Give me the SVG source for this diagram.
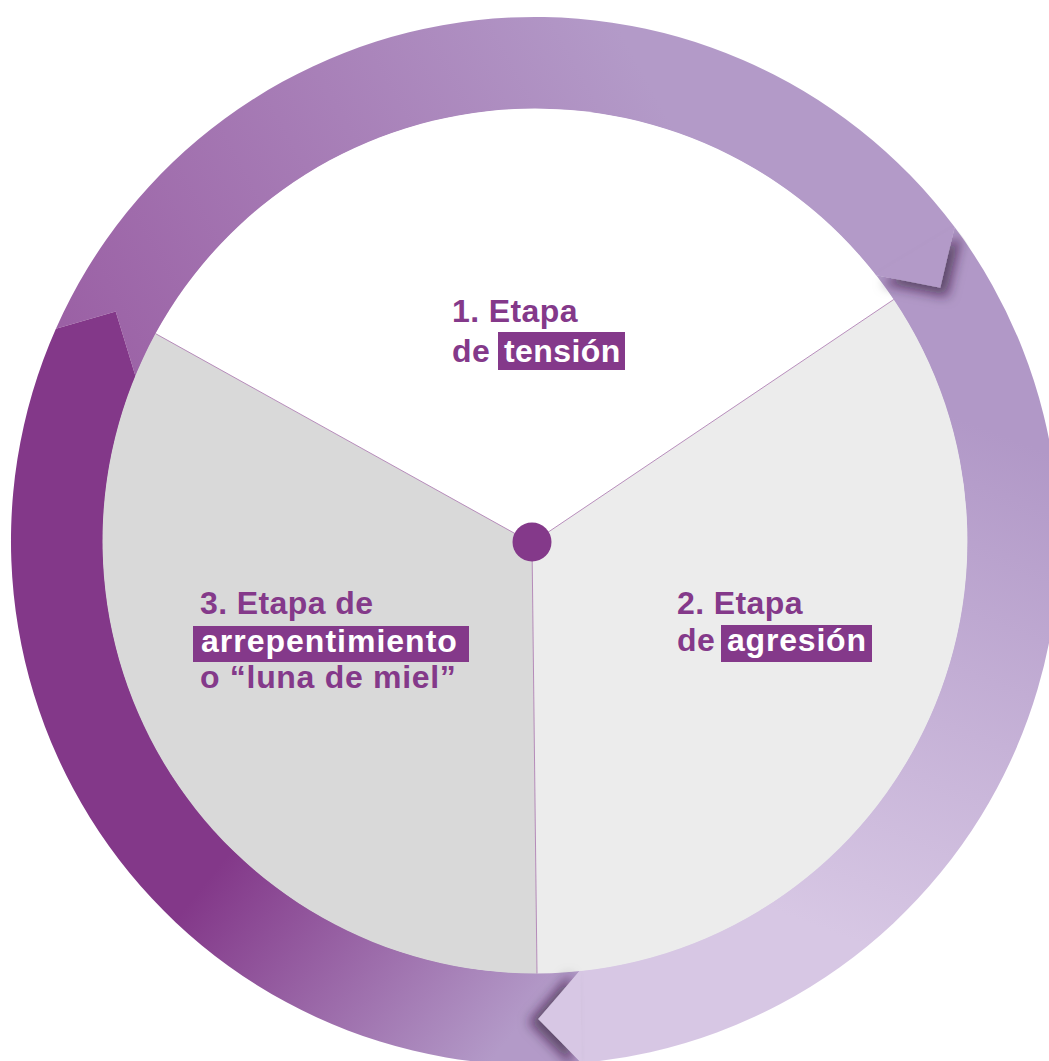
<svg xmlns="http://www.w3.org/2000/svg" width="1049" height="1061" viewBox="0 0 1049 1061">
<style>
.lbl{font-family:"Liberation Sans",Arial,sans-serif;font-weight:700;font-size:32px;letter-spacing:0.4px;fill:#84398a}
.hl{font-family:"Liberation Sans",Arial,sans-serif;font-weight:700;font-size:32px;letter-spacing:0.4px;fill:#ffffff}
.hlbox{fill:#84398a}
.div{stroke:#a873ad;stroke-width:0.8;fill:none}
</style>
<defs>
<linearGradient id="gTop" gradientUnits="userSpaceOnUse" x1="70" y1="330" x2="620" y2="30">
<stop offset="0" stop-color="#9b61a5"/>
<stop offset="1" stop-color="#b39ac8"/>
</linearGradient>
<linearGradient id="gRight" gradientUnits="userSpaceOnUse" x1="990" y1="430" x2="800" y2="920">
<stop offset="0" stop-color="#b198c7"/>
<stop offset="1" stop-color="#d7c7e4"/>
</linearGradient>
<linearGradient id="gLeft" gradientUnits="userSpaceOnUse" x1="240" y1="840" x2="500" y2="1050">
<stop offset="0" stop-color="#833889"/>
<stop offset="1" stop-color="#b39ac8"/>
</linearGradient>
<filter id="shTop" x="-50%" y="-50%" width="200%" height="200%">
<feGaussianBlur in="SourceAlpha" stdDeviation="6"/>
<feOffset dx="7" dy="9" result="b"/>
<feFlood flood-color="#2a1030" flood-opacity="0.6"/>
<feComposite in2="b" operator="in" result="s"/>
<feMerge><feMergeNode in="s"/><feMergeNode in="SourceGraphic"/></feMerge>
</filter>
<filter id="shRight" x="-50%" y="-50%" width="200%" height="200%">
<feGaussianBlur in="SourceAlpha" stdDeviation="6"/>
<feOffset dx="-10" dy="3" result="b"/>
<feFlood flood-color="#2a1030" flood-opacity="0.6"/>
<feComposite in2="b" operator="in" result="s"/>
<feMerge><feMergeNode in="s"/><feMergeNode in="SourceGraphic"/></feMerge>
</filter>
<clipPath id="ringClip"><circle cx="535" cy="541" r="525"/></clipPath>
</defs>
<rect width="1049" height="1061" fill="#ffffff"/>
<g id="connectors">
<path id="arrow-top" fill="url(#gTop)" d="M 55.9 328.7 A 524 524 0 0 1 954.6 227.1 L 940.3 287.7 L 875.4 275.0 A 432 432 0 0 0 135.6 376.4 L 115.7 311.5 Z"/>
<path id="arrow-right" fill="url(#gRight)" d="M 954.6 227.1 A 524 524 0 0 1 581.6 1062.9 L 538.3 1019.0 L 580.2 970.6 A 432 432 0 0 0 875.4 275.0 L 940.3 287.7 Z"/>
<path id="arrow-left" fill="url(#gLeft)" d="M 581.6 1062.9 A 524 524 0 0 1 55.9 328.7 L 115.7 311.5 L 135.6 376.4 A 432 432 0 0 0 580.2 970.6 L 538.3 1019.0 Z"/>
</g>
<g id="pie">
<path fill="#ffffff" d="M 532 543 L 155.5 333.6 A 432.5 432.5 0 0 1 893.7 299.5 Z"/>
<path fill="#ececec" d="M 532 543 L 893.7 299.5 A 432.5 432.5 0 0 1 537 973.5 Z"/>
<path fill="#d9d9d9" d="M 532 543 L 537 973.5 A 432.5 432.5 0 0 1 155.5 333.6 Z"/>
<path class="div" d="M 532 543 L 155.5 333.6 M 532 543 L 893.7 299.5 M 532 543 L 537 973.5"/>
</g>
<g id="arrow-heads" clip-path="url(#ringClip)">
<polygon fill="url(#gTop)" filter="url(#shTop)" points="954.6,227.1 940.3,287.7 875.4,275.0"/>
<polygon fill="url(#gRight)" filter="url(#shRight)" points="580.2,970.6 538.3,1019.0 581.6,1062.9"/>
</g>
<g id="center">
<circle cx="532" cy="542" r="19.5" fill="#84398a"/>
</g>
<g id="stage1">
<text class="lbl" x="452" y="322">1. Etapa</text>
<text class="lbl" x="452" y="362">de</text>
<rect class="hlbox" x="498" y="332" width="127" height="38"/>
<text class="hl" x="504" y="362">tensión</text>
</g>
<g id="stage2">
<text class="lbl" x="677" y="614">2. Etapa</text>
<text class="lbl" x="677" y="651">de</text>
<rect class="hlbox" x="721" y="625" width="151" height="37"/>
<text class="hl" x="727" y="651" style="letter-spacing:0.8px">agresión</text>
</g>
<g id="stage3">
<text class="lbl" x="200" y="614">3. Etapa de</text>
<rect class="hlbox" x="193" y="626" width="276" height="36"/>
<text class="hl" x="201" y="652" style="letter-spacing:1px">arrepentimiento</text>
<text class="lbl" x="200" y="688" style="letter-spacing:0.7px">o “luna de miel”</text>
</g>
</svg>
